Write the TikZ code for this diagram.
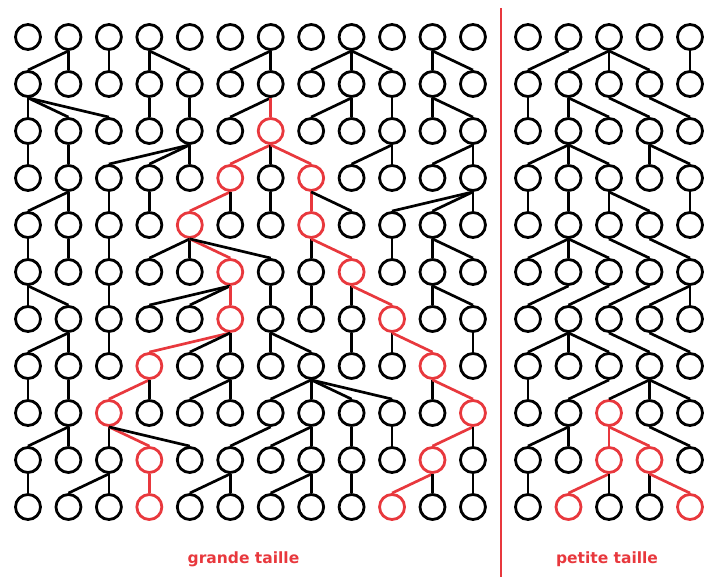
\documentclass[tikz,border=0pt]{standalone}
\usepackage{fontspec}
\newfontfamily\capfont{DejaVu Sans}
\usetikzlibrary{positioning}
\definecolor{mRed}{HTML}{E8383D}

\tikzset{
  ind0/.style={draw=black, circle, line width=2.8pt, minimum size=25pt, inner sep=0pt},
  ind1/.style={ind0, draw=mRed},
  ind2/.style={ind1},
  link0/.style={draw=black, line width=2.7pt},
  link1/.style={link0, draw=mRed},
  link2/.style={link0},
  lab/.style={text=mRed, font=\capfont\bfseries\fontsize{15.5}{18}\selectfont, inner sep=0pt, anchor=base}
}

\begin{document}
\begin{tikzpicture}[x=1pt, y=-1pt]
  \useasboundingbox (0,0) rectangle (704,577);

  % large population: 12 individuals per generation
  \foreach \c in {1,...,12}
    \node[ind0] (L-1-\c) at ({28+40.45*(\c-1)},37) {};
  \foreach \r/\plist in {%
      2/{2/0,2/0,3/0,4/0,4/0,7/0,7/0,9/0,9/0,9/0,11/0,11/0},%
      3/{1/0,1/0,1/0,4/0,5/0,7/0,7/1,9/0,9/0,10/0,11/0,11/0},%
      4/{1/0,2/0,5/0,5/0,5/0,7/1,7/0,7/1,10/0,10/0,12/0,12/0},%
      5/{2/0,2/0,3/0,4/0,6/1,6/0,7/0,8/1,8/0,12/0,12/0,12/0},%
      6/{1/0,2/0,3/0,5/0,5/0,5/1,5/0,8/0,8/1,10/0,11/0,11/0},%
      7/{1/0,1/0,3/0,6/0,6/0,6/1,7/0,8/0,9/0,9/1,11/0,11/0},%
      8/{2/0,2/0,3/0,6/1,6/0,6/0,7/0,7/0,9/0,10/0,10/1,12/0},%
      9/{1/0,2/0,4/1,4/0,6/0,6/0,8/0,8/0,8/0,8/0,11/0,11/1},%
      10/{2/0,2/0,3/0,3/1,3/0,7/0,8/0,8/0,9/0,10/0,12/1,12/0},%
      11/{1/0,3/0,3/0,4/1,6/0,6/0,8/0,8/0,9/0,11/1,11/0,12/0}%
    }{
    \pgfmathtruncatemacro\q{\r-1}
    \foreach \p/\k [count=\c] in \plist {
      \node[ind\k] (L-\r-\c) at ({28+40.45*(\c-1)},{37+47*(\r-1)}) {};
      \draw[link\k] (L-\q-\p.south) -- (L-\r-\c.north);
    }
  }

  % small population: 5 individuals per generation
  \foreach \c in {1,...,5}
    \node[ind0] (R-1-\c) at ({528+40.5*(\c-1)},37) {};
  \foreach \r/\plist in {%
      2/{2/0,3/0,3/0,3/0,5/0},%
      3/{1/0,2/0,2/0,3/0,4/0},%
      4/{2/0,2/0,2/0,4/0,4/0},%
      5/{1/0,2/0,3/0,3/0,5/0},%
      6/{2/0,2/0,2/0,3/0,4/0},%
      7/{2/0,3/0,4/0,5/0,5/0},%
      8/{2/0,2/0,2/0,3/0,4/0},%
      9/{1/0,3/0,4/2,4/0,4/0},%
      10/{2/0,2/0,3/1,3/1,4/0},%
      11/{1/0,3/1,3/0,4/0,4/1}%
    }{
    \pgfmathtruncatemacro\q{\r-1}
    \foreach \p/\k [count=\c] in \plist {
      \node[ind\k] (R-\r-\c) at ({528+40.5*(\c-1)},{37+47*(\r-1)}) {};
      \draw[link\k] (R-\q-\p.south) -- (R-\r-\c.north);
    }
  }

  % divider
  \coordinate (top) at (501,8);
  \coordinate (bot) at (501,577);
  \draw[mRed, line width=2.2pt] (top) -- (bot);

  \node[lab] (big) at (243.5,563) {grande taille};
  \node[lab] (small) at (607,563) {petite taille};
\end{tikzpicture}
\end{document}
